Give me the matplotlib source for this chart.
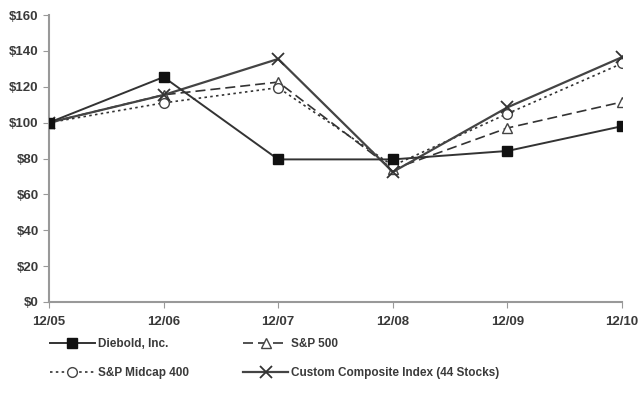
import matplotlib
matplotlib.use("Agg")
import matplotlib.pyplot as plt

# data
periods = ["12/05", "12/06", "12/07", "12/08", "12/09", "12/10"]
diebold = [100, 125.4, 79.5, 79.5, 84.2, 98]
sp500 = [100, 115.5, 122.6, 74, 97, 111.5]
midcap = [100, 111, 119.5, 76, 105, 133]
custom = [100, 115.4, 135.5, 72.5, 108.5, 136.5]
yticks = [0, 20, 40, 60, 80, 100, 120, 140, 160]

plt.rcParams['font.family'] = ['Liberation Sans', 'DejaVu Sans']
txt = '#3a3a3a'
fig = plt.figure(figsize=(6.41, 4.07), dpi=100)
ax = fig.add_axes([49/641, 1-302/407, (622-49)/641, (302-15)/407])

x = list(range(len(periods)))
h2, = ax.plot(x, sp500, color='#333333', lw=1.2, ls=(0, (6, 3)), marker='^', ms=7,
              mfc='white', mec='#444444', label='S&P 500', zorder=2)
h3, = ax.plot(x, midcap, color='#333333', lw=1.2, ls=(0, (1.5, 2)), marker='o', ms=7,
              mfc='white', mec='#444444', label='S&P Midcap 400', zorder=2)
h4, = ax.plot(x, custom, color='#444444', lw=1.6, marker='x', ms=8,
              mec='#333333', mew=1.3, label='Custom Composite Index (44 Stocks)', zorder=3)
h1, = ax.plot(x, diebold, color='#333333', lw=1.4, marker='s', ms=7,
              mfc='#111111', mec='#111111', label='Diebold, Inc.', zorder=4)

ax.set_xlim(0, len(periods)-1)
ax.set_ylim(0, 160)
ax.set_xticks(x)
ax.set_xticklabels(periods)
ax.set_yticks(yticks)
ax.set_yticklabels(['$' + str(v) for v in yticks])
for s in ['top', 'right']:
    ax.spines[s].set_visible(False)
for s in ['left', 'bottom']:
    ax.spines[s].set_color('#999999')
    ax.spines[s].set_linewidth(1.5)
ax.tick_params(colors='#999999', labelcolor=txt, length=4, labelsize=9.5)
for lab in ax.get_xticklabels() + ax.get_yticklabels():
    lab.set_fontweight('bold')
ax.tick_params(axis='x', pad=6)

fig.legend([h1, h3, h2, h4],
           [h1.get_label(), h3.get_label(), h2.get_label(), h4.get_label()],
           ncol=2, loc='upper left', bbox_to_anchor=(50/641, 1-338/407), frameon=False,
           borderpad=0, borderaxespad=0,
           handlelength=3.8, handletextpad=0.25, columnspacing=4.6, labelspacing=1.45,
           prop={'weight': 'bold', 'size': 8.5}, labelcolor=txt)

fig.savefig('out.png', dpi=100)
